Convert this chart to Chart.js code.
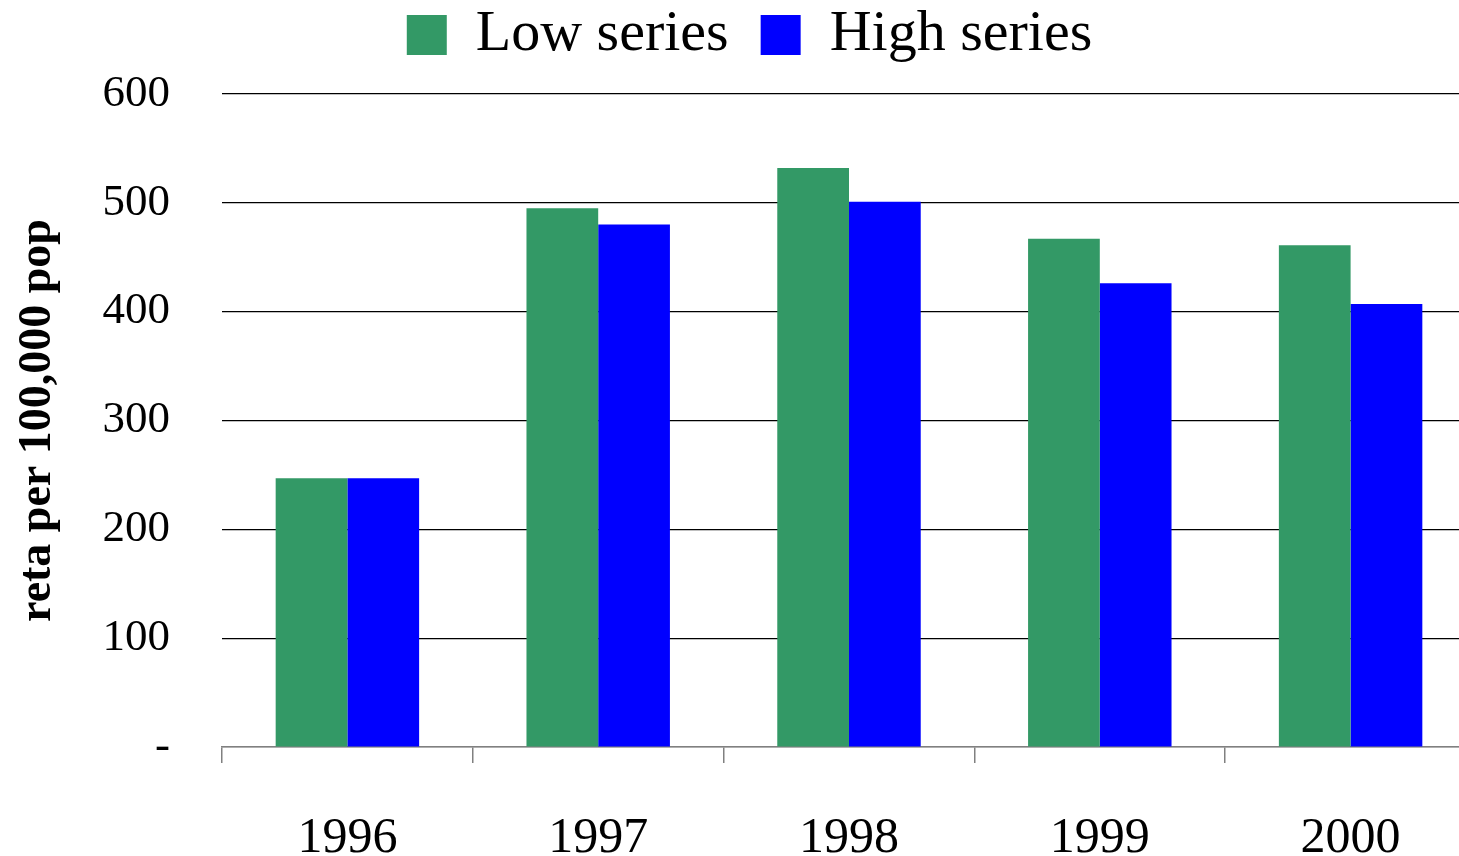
<!DOCTYPE html>
<html lang="en">
<head>
    <meta charset="UTF-8">
    <title>Low / High series</title>
    <script src="https://cdn.jsdelivr.net/npm/chart.js"></script>
    <style>
        html, body { margin: 0; background: #fff; overflow: hidden; }
        /* plot runs a little past the right edge in the original, so the canvas is wider than the window */
        #wrap { width: 1476px; height: 856px; }
    </style>
</head>
<body>
    <div id="wrap"><canvas id="rateChart"></canvas></div>

    <script>
        // values
        const years = ['1996', '1997', '1998', '1999', '2000'];
        const lowSeries = [247, 495, 532, 467, 461];
        const highSeries = [247, 480, 501, 426, 407];
        const yTicks = [0, 100, 200, 300, 400, 500, 600];

        const serif = 'Liberation Serif, Times New Roman, serif';

        // extra room under the legend
        const legendGap = {
            id: 'legendGap',
            beforeInit(chart) {
                const fit = chart.legend.fit;
                chart.legend.fit = function () {
                    fit.call(this);
                    this.height += 20;
                };
            }
        };

        new Chart(document.getElementById('rateChart').getContext('2d'), {
            type: 'bar',
            data: {
                labels: years,
                datasets: [
                    { label: 'Low series', data: lowSeries, backgroundColor: '#339966' },
                    { label: 'High series', data: highSeries, backgroundColor: '#0000ff' }
                ]
            },
            plugins: [legendGap],
            options: {
                responsive: true,
                maintainAspectRatio: false,
                animation: false,
                datasets: { bar: { categoryPercentage: 0.572, barPercentage: 1 } },
                layout: { padding: { top: -26, right: 0, bottom: 0, left: 23 } },
                plugins: {
                    tooltip: { enabled: false },
                    legend: {
                        position: 'top',
                        labels: {
                            boxWidth: 40, boxHeight: 40, padding: 32,
                            color: '#000',
                            font: { family: serif, size: 58 }
                        }
                    }
                },
                scales: {
                    x: {
                        offset: true,
                        grid: { offset: true, drawOnChartArea: false, tickLength: 16, color: '#808080', lineWidth: 1.5 },
                        border: { color: '#808080', width: 1.5 },
                        ticks: { color: '#000', padding: 46, font: { family: serif, size: 50 } },
                        afterFit: s => { s.height = 109; }
                    },
                    y: {
                        min: 0, max: 600,
                        afterBuildTicks: s => { s.ticks = yTicks.map(v => ({ value: v })); },
                        grid: { drawTicks: false, color: ctx => ctx.tick && ctx.tick.value === 0 ? '#808080' : '#000', lineWidth: 1.2 },
                        border: { display: false },
                        ticks: {
                            color: '#000', padding: 52,
                            font: { family: serif, size: 45 },
                            callback: v => v === 0 ? '-' : v
                        },
                        title: {
                            display: true, text: 'reta per 100,000 pop', color: '#000',
                            padding: { top: -12, bottom: 0 },
                            font: { family: serif, size: 46, weight: 'bold' }
                        },
                        afterFit: s => { s.width = 199; }
                    }
                }
            }
        });
    </script>
</body>
</html>
